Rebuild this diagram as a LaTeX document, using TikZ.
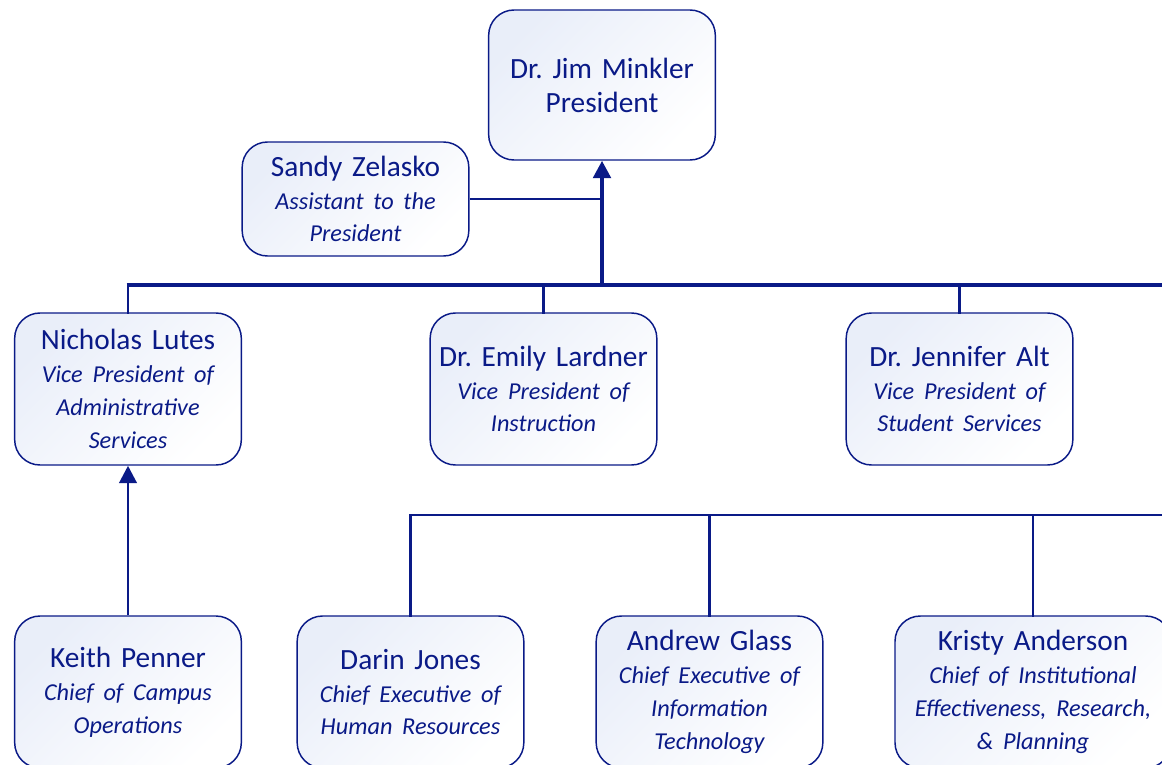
\documentclass[tikz,border=0pt]{standalone}
\usepackage{fontspec}
\setmainfont{Carlito}
\usepackage{tikz}
\usetikzlibrary{shapes, calc, arrows.meta, math}
\definecolor{navy}{RGB}{10,26,135}
\definecolor{tint}{RGB}{233,238,249}
\newcommand\role[1]{{\itshape\fontsize{18.2}{24.6}\selectfont #1}}
\frenchspacing

\begin{document}
\begin{tikzpicture}[x=0.75pt, y=-0.75pt, >={Triangle[length=13pt, width=13pt]},
  card/.style={draw=navy, line width=1.1pt, rounded corners=19pt,
    top color=tint, bottom color=white, shading angle=45,
    text=navy, text width=162pt, align=center, inner sep=4pt,
    minimum height=114pt, font=\fontsize{22}{24.6}\selectfont},
  bus/.style={draw=navy, line width=3pt},
  link/.style={draw=navy, line width=2.2pt, line cap=rect}]

\tikzmath{
  \busA = 285; \busB = 515;
  \xmax = 1175;
}

\useasboundingbox (0,0) rectangle (1162,764);
\clip (0,0) rectangle (1162,764);

\node[card, minimum height=112.5pt, font=\fontsize{22}{25.5}\selectfont] (pres) at (602,85) {Dr. Jim Minkler\\President};

\node[card, minimum height=85.5pt] (asst) at (355.5,199) {Sandy Zelasko\\\role{Assistant to the\\President}};

\node[card] (vpas) at (128,389) {Nicholas Lutes\\\role{Vice President of\\Administrative\\Services}};
\node[card] (vpi) at (543.5,389) {Dr. Emily Lardner\\\role{Vice President of\\Instruction}};
\node[card] (vpss) at (959.5,389) {Dr. Jennifer Alt\\\role{Vice President of\\Student Services}};

\node[card] (campus) at (128,692) {Keith Penner\\\role{Chief of Campus\\Operations}};
\node[card] (hr) at (410.5,692) {Darin Jones\\\role{Chief Executive of\\Human Resources}};
\node[card] (it) at (709.5,692) {Andrew Glass\\\role{Chief Executive of\\Information\\Technology}};
\node[card, text width=199pt] (ire) at (1033,692) {Kristy Anderson\\\role{Chief of Institutional\\Effectiveness, Research,\\\& Planning}};

\coordinate (topbus) at (0,\busA);
\coordinate (topend) at (\xmax,\busA);
\coordinate (lowbus) at (0,\busB);
\coordinate (lowend) at (\xmax,\busB);

% president and assistant
\draw[bus, ->] (pres.south |- topbus) -- (pres.south);
\draw[link, line cap=butt] (asst.east) -- (asst.east -| pres.south);

% vice presidents
\draw[bus] ([xshift=-1.1pt]vpas.north |- topbus) -- (topend);
\draw[link] (vpas.north) -- (vpas.north |- topbus);
\draw[link] (vpi.north) -- (vpi.north |- topbus);
\draw[link] (vpss.north) -- (vpss.north |- topbus);

\draw[link, line cap=butt, ->] (campus.north) -- (vpas.south);

% chiefs
\draw[link, line cap=butt] ([xshift=-1.1pt]hr.north |- lowbus) -- (lowend);
\draw[link] (hr.north) -- (hr.north |- lowbus);
\draw[link] (it.north) -- (it.north |- lowbus);
\draw[link] (ire.north) -- (ire.north |- lowbus);

\end{tikzpicture}
\end{document}
